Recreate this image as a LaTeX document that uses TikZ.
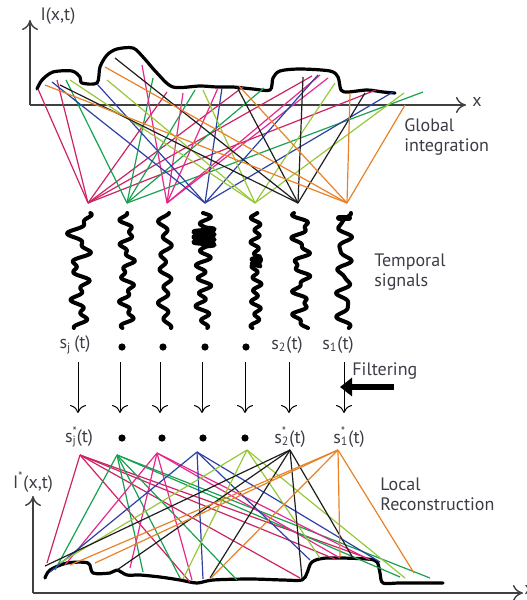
\documentclass[tikz,border=0pt]{standalone}
\usepackage{fontspec}
\setmainfont{PT Sans}
\usetikzlibrary{arrows.meta}
\definecolor{cmag}{RGB}{205,35,100}
\definecolor{cgrn}{RGB}{25,160,80}
\definecolor{cpnk}{RGB}{230,40,140}
\definecolor{cblu}{RGB}{45,65,165}
\definecolor{cylg}{RGB}{150,200,60}
\definecolor{cblk}{RGB}{30,30,30}
\definecolor{corg}{RGB}{232,130,40}
\definecolor{ctxt}{RGB}{60,60,70}

\begin{document}
\begin{tikzpicture}[x=0.5pt,y=-0.5pt,font=\fontsize{9}{10}\selectfont]
\tikzset{ray/.style={line width=0.6pt},
  axis/.style={line width=0.7pt,draw=black!75,-{To[length=5pt,width=8pt]}},
  prof/.style={line width=1.6pt,line join=round,line cap=round},
  sig/.style={line width=2pt,line cap=round,line join=round},
  lbl/.style={text=ctxt,inner sep=1pt}}
\useasboundingbox (0,0) rectangle (526,600);

% global integration
\coordinate (o1) at (30,105);
\coordinate (yt) at (30,20);
\coordinate (xt) at (466,105);
\draw[axis] (o1) -- (yt);
\draw[axis] (o1) -- (xt);
\node[lbl] (Ixt) at (58,16) {I(x,t)};
\node[lbl,anchor=west] (xl) at (470,102) {x};

\draw[prof] plot[smooth,tension=0.5] coordinates {(37,89) (42,80) (53,72) (72,71) (80,77) (82,83)
  (97,83) (100,67) (107,55) (117,49) (133,48) (143,57) (157,73) (173,87) (200,86) (217,87)
  (233,87) (253,89) (270,90) (273,78) (280,71) (300,69) (330,71) (338,77) (341,90) (348,92)
  (367,90) (383,92) (395,93)};

\foreach \n/\cx/\cc/\tops in {
  A/88/cmag/{38/89,57/80,167/92,243/87,312/76,376/90},
  B/127/cgrn/{66/80,153/78,195/90,264/88,423/92},
  C/167/cpnk/{142/65,183/93,218/88,320/75,328/78},
  D/205/cblu/{52/82,97/84,222/88,318/75,393/92},
  E/255/cylg/{70/80,107/80,203/90,335/83,404/93},
  F/298/cblk/{115/58,60/85,237/87,303/77,365/93},
  G/347/corg/{45/85,105/67,239/86,350/93,405/105}}{
  \coordinate (g\n) at (\cx,203);
  \foreach \tx/\ty in \tops
    \draw[ray,\cc] (g\n) -- (\tx,\ty);
}

% temporal signals
\foreach \cx/\a/\d/\f/\b/\g/\ph in {80/10/0.6/11/4/27/40, 127/5/0/13/3/31/200,
  165/4/0/22/3/9/90, 203/6/0.2/26/3/11/0, 256/3.5/0/30/2/13/120,
  301/7/0.1/14/3/33/270, 344/6/0/16/2/29/60}
  \draw[sig] plot[smooth,samples=160,domain=0:115,variable=\t]
    ({\cx+\a*(1-\d*\t/115)*sin(\f*\t+\ph)+\b*sin(\g*\t+2*\ph)},213+\t);
\draw[sig,line width=2.6pt] plot[smooth,samples=60,domain=0:18,variable=\t]
  ({204+10*sin(70*\t)},228+\t);
\draw[sig,line width=2.4pt] plot[smooth,samples=40,domain=0:10,variable=\t]
  ({256+4*sin(80*\t)},256+\t);
\draw[sig,line width=3pt] (339,218) -- (349,218);
\node[lbl,anchor=west,align=left] (temp) at (372,272) {Temporal\\signals};
\node[lbl,anchor=west,align=left] (glob) at (402,137) {Global\\integration};

% filtering
\node[lbl] (sj) at (75,345) {s\textsubscript{j}\,(t)};
\node[lbl] (s2) at (287,345) {s\textsubscript{2}(t)};
\node[lbl] (s1) at (338,345) {s\textsubscript{1}(t)};
\node[lbl] (sjs) at (79,437) {s\rlap{\textsuperscript{*}}\textsubscript{j}(t)};
\node[lbl] (s2s) at (290,437) {s\rlap{\textsuperscript{*}}\textsubscript{2}(t)};
\node[lbl] (s1s) at (349,437) {s\rlap{\textsuperscript{*}}\textsubscript{1}(t)};
\foreach \n/\xa/\xb in {1/122/122,2/163/162,3/205/203,4/246/245}{
  \fill (\xa,347) circle (1.8pt) coordinate (da\n);
  \fill (\xb,438) circle (1.8pt) coordinate (db\n);
}
\foreach \n/\ax in {1/78,2/120,3/160,4/202,5/245,6/289,7/344}{
  \coordinate (fa\n) at (\ax,362);
  \coordinate (fb\n) at (\ax,413);
  \draw[line width=0.5pt,-{To[length=4pt,width=8pt]}] (fa\n) -- (fb\n);
}
\node[lbl,anchor=west] (filt) at (350,371) {Filtering};
\coordinate (fs) at (394,387);
\coordinate (fe) at (340,387);
\draw[line width=3.2pt,-{Triangle[length=6pt,width=9pt]}] (fs) -- (fe);

% local reconstruction
\coordinate (o2) at (33,593);
\coordinate (yb) at (33,496);
\coordinate (xb) at (523,593);
\draw[axis] (o2) -- (yb);
\draw[axis] (o2) -- (xb);
\node[lbl] (Ist) at (33,482) {I\textsuperscript{*}(x,t)};
\node[lbl,anchor=west] (xl2) at (522,590) {x};

\draw[prof] plot[smooth,tension=0.5] coordinates {(45,578) (50,570) (67,563) (88,563) (93,573)
  (110,573) (117,570) (127,575) (140,575) (160,577) (180,580) (197,583) (213,580) (250,579)
  (283,580) (302,580) (307,573) (312,562) (327,558) (367,559) (377,562) (380,573) (383,583)
  (400,583) (443,583)};

\foreach \n/\cx/\cy/\cc/\ends in {
  A/80/455/cmag/{47/563,190/582,300/578,367/558,335/559},
  B/117/455/cgrn/{55/570,143/572,180/578,237/580,400/577,430/578},
  C/157/453/cpnk/{65/565,130/568,192/580,340/558,370/560},
  D/197/452/cblu/{50/572,203/579,310/560,380/562},
  E/247/450/cylg/{60/563,183/579,320/558,405/578},
  F/290/450/cblk/{45/566,117/570,210/578,302/578,353/558},
  G/338/450/corg/{70/565,95/563,211/578,340/557,414/573}}{
  \coordinate (r\n) at (\cx,\cy);
  \foreach \ex/\ey in \ends
    \draw[ray,\cc] (r\n) -- (\ex,\ey);
}
\node[lbl,anchor=west,align=left] (loc) at (378,494) {Local\\Reconstruction};
\end{tikzpicture}
\end{document}
